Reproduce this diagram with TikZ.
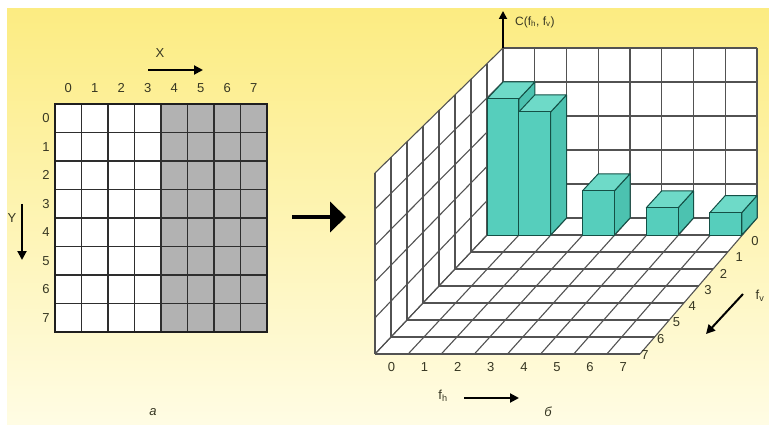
\documentclass[tikz,border=0pt]{standalone}
\usepackage{fontspec}
\setmainfont{Liberation Sans}
\usetikzlibrary{arrows.meta}
\definecolor{bgtop}{RGB}{252,236,130}
\definecolor{bgbot}{RGB}{255,252,228}
\definecolor{cellgray}{RGB}{178,178,178}
\definecolor{barfront}{RGB}{86,206,188}
\definecolor{bartop}{RGB}{110,218,200}
\definecolor{barside}{RGB}{76,194,176}
\definecolor{baredge}{RGB}{20,80,70}
\definecolor{txt}{RGB}{55,55,35}
\begin{document}
\begin{tikzpicture}[x=1pt,y=-1pt,
  gline/.style={draw=black!68,line width=1.1pt},
  fgline/.style={draw=black!82,line width=1.1pt},
  lbl/.style={text=txt,font=\fontsize{13}{15}\selectfont,inner sep=0pt},
  axarrow/.style={line width=2pt,-{Triangle[length=9pt,width=9pt]}},
  barstyle/.style={draw=baredge,line width=1pt,line join=round}]
\useasboundingbox (0,0) rectangle (769,425);
\fill[white] (0,0) rectangle (769,425);
\shade[top color=bgtop,bottom color=bgbot] (7,9) rectangle (769,425);

% ---------- left image (a) ----------
\fill[white] (55,104) rectangle (161,332);
\fill[cellgray] (161,104) rectangle (267,332);
\foreach \i in {1,...,7} {
  \draw[fgline] ({55+26.5*\i},104) -- ({55+26.5*\i},332);
  \draw[fgline] (55,{104+28.5*\i}) -- (267,{104+28.5*\i});
}
\draw[line width=2.4pt,black!88] (55,104) rectangle (267,332);
\foreach \i in {0,...,7} {
  \node[lbl] (cx\i) at ({68.25+26.5*\i},88) {\i};
  \node[lbl] (ry\i) at (46,{118.25+28.5*\i}) {\i};
}
\node[lbl] (xl) at (160,53) {X};
\coordinate (xa) at (148,70); \coordinate (xb) at (203,70);
\draw[axarrow] (xa) -- (xb);
\node[lbl] (yl) at (12,218) {Y};
\coordinate (ya) at (22,204); \coordinate (yb) at (22,260);
\draw[axarrow] (ya) -- (yb);
\node[lbl,font=\fontsize{13}{15}\selectfont\itshape] (la) at (153,412) {а};

% ---------- big arrow ----------
\coordinate (ba) at (292,217); \coordinate (bb) at (346,217);
\draw[line width=4.5pt,-{Triangle[length=16pt,width=30pt]}] (ba) -- (bb);

% ---------- 3D chart (b) ----------
\fill[white] (503,48) rectangle (757,218);
\fill[white] (503,218) -- (503,48) -- (375,173) -- (375,354) -- cycle;
\fill[white] (503,218) -- (757,218) -- (640,354) -- (375,354) -- cycle;
% back wall lines
\foreach \i in {0,...,8} \draw[gline] ({503+31.75*\i},48) -- ({503+31.75*\i},218);
\foreach \k in {0,...,5} \draw[gline] (503,{218-34*\k}) -- (757,{218-34*\k});
% left wall lines
\foreach \d in {0,...,8} \draw[gline] ({503-16*\d},{218+17*\d}) -- ({503-16*\d},{48+15.625*\d});
\foreach \k in {0,...,5} \draw[gline] (503,{218-34*\k}) -- (375,{354-36.2*\k});
% floor lines
\foreach \i in {0,...,8} \draw[gline] ({503+31.75*\i},218) -- ({375+33.125*\i},354);
\foreach \d in {0,...,8} \draw[gline] ({503-16*\d},{218+17*\d}) -- ({757-14.625*\d},{218+17*\d});
% bars
\foreach \i/\h in {0/4, 1/3.62, 3/1.3, 5/0.8, 7/0.66} {
  \pgfmathsetmacro\fl{487+31.85*\i}
  \pgfmathsetmacro\fr{487+31.85*(\i+1)}
  \pgfmathsetmacro\bl{503+31.75*\i}
  \pgfmathsetmacro\br{503+31.75*(\i+1)}
  \pgfmathsetmacro\ft{235-34*\h}
  \pgfmathsetmacro\bt{218-34*\h}
  \filldraw[barstyle,fill=barside] (\fr,235) -- (\fr,\ft) -- (\br,\bt) -- (\br,218) -- cycle;
  \filldraw[barstyle,fill=bartop] (\fl,\ft) -- (\bl,\bt) -- (\br,\bt) -- (\fr,\ft) -- cycle;
  \filldraw[barstyle,fill=barfront] (\fl,235) rectangle (\fr,\ft);
}
% vertical axis
\coordinate (ca) at (503,48); \coordinate (cb) at (503,11);
\draw[line width=1.8pt,-{Triangle[length=8pt,width=8pt]}] (ca) -- (cb);
\node[lbl,anchor=west,font=\fontsize{12}{14}\selectfont] (cl) at (515,22) {C(f\textsubscript{h}, f\textsubscript{v})};
% f_h labels
\foreach \i in {0,...,7} \node[lbl] (fh\i) at ({391.5+33.1*\i},367) {\i};
\node[lbl] (fhl) at (443,396) {f\textsubscript{h}};
\coordinate (ha) at (464,398); \coordinate (hb) at (519,398);
\draw[axarrow] (ha) -- (hb);
\node[lbl,font=\fontsize{13}{15}\selectfont\itshape] (lb) at (548,412) {б};
% f_v labels
\foreach \d in {0,...,7} \node[lbl] (fv\d) at ({755-15.7*\d},{241+16.3*\d}) {\d};
\node[lbl] (fvl) at (760,296) {f\textsubscript{v}};
\coordinate (va) at (743,294); \coordinate (vb) at (706,334);
\draw[axarrow] (va) -- (vb);
\end{tikzpicture}
\end{document}
